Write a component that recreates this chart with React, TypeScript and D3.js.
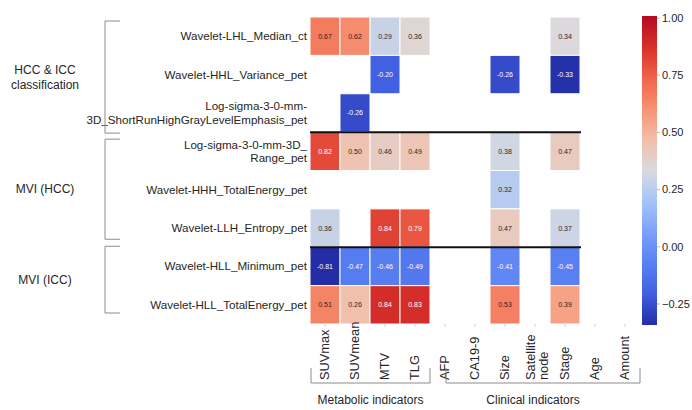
import React from 'react';
import * as d3 from 'd3';

const features: string[][] = [
  ['Wavelet-LHL_Median_ct'],
  ['Wavelet-HHL_Variance_pet'],
  ['Log-sigma-3-0-mm-', '3D_ShortRunHighGrayLevelEmphasis_pet'],
  ['Log-sigma-3-0-mm-3D_', 'Range_pet'],
  ['Wavelet-HHH_TotalEnergy_pet'],
  ['Wavelet-LLH_Entropy_pet'],
  ['Wavelet-HLL_Minimum_pet'],
  ['Wavelet-HLL_TotalEnergy_pet'],
];

const indicators: string[][] = [
  ['SUVmax'], ['SUVmean'], ['MTV'], ['TLG'], ['AFP'], ['CA19-9'], ['Size'],
  ['Satellite', 'node'], ['Stage'], ['Age'], ['Amount'],
];

const N = null;
const values: (number | null)[][] = [
  [0.67, 0.62, 0.29, 0.36, N, N, N, N, 0.34, N, N],
  [N, N, -0.20, N, N, N, -0.26, N, -0.33, N, N],
  [N, -0.26, N, N, N, N, N, N, N, N, N],
  [0.82, 0.50, 0.46, 0.49, N, N, 0.38, N, 0.47, N, N],
  [N, N, N, N, N, N, 0.32, N, N, N, N],
  [0.36, N, 0.84, 0.79, N, N, 0.47, N, 0.37, N, N],
  [-0.81, -0.47, -0.46, -0.49, N, N, -0.41, N, -0.45, N, N],
  [0.51, 0.26, 0.84, 0.83, N, N, 0.53, N, 0.39, N, N],
];

// row groups (stacked heatmaps, each with its own colour normalisation)
const groupNames: string[][] = [['HCC & ICC', 'classification'], ['MVI (HCC)'], ['MVI (ICC)']];
const groupStart = [0, 3, 6];
const groupEnd = [3, 6, 8];
const groupVmin = [-0.34, -0.2, -0.81];
const groupVmax = [1.01, 1.0, 1.0];

const colGroupNames = ['Metabolic indicators', 'Clinical indicators'];
const colGroupStart = [0, 4];
const colGroupEnd = [4, 11];

const cbTicks = [-0.25, 0, 0.25, 0.5, 0.75, 1.0];
const cbMin = -0.342;
const cbMax = 1.009;

// saturated coolwarm-like palette as seen in the figure
const palette = ['#232da5', '#415fe1', '#5880f2', '#7da0fa', '#a5c3fa', '#dadade', '#f2bea8', '#f69173', '#f06448', '#d7302a', '#b40a23'];
const interp = d3.piecewise(d3.interpolateRgb, palette);

function relLum(c: string) {
  const rgb = d3.rgb(c);
  const f = (v: number) => {
    v = v / 255;
    return v <= 0.03928 ? v / 12.92 : Math.pow((v + 0.055) / 1.055, 2.4);
  };
  return 0.2126 * f(rgb.r) + 0.7152 * f(rgb.g) + 0.0722 * f(rgb.b);
}

const FONT = "'Liberation Sans', Arial, Helvetica, sans-serif";
const TEXT = '#262626';
const BRACKET = '#8c8c8c';

export default function App() {
  const W = 692, H = 410;
  const x = d3.scaleBand<number>().domain(d3.range(indicators.length)).range([310, 640]);
  const y = d3.scaleBand<number>().domain(d3.range(features.length)).range([17, 324]);
  const bw = x.bandwidth();
  const bh = y.bandwidth();
  const yEdge = (i: number) => (i >= features.length ? 324 : (y(i) as number));

  const cbY = d3.scaleLinear().domain([cbMin, cbMax]).range([325, 16]);
  const stops = d3.range(0, 1.0001, 0.05);

  const bracketInset = [[4, 1], [7, -8], [-1, -11]];

  const cells: any[] = [];
  values.forEach((row, r) => {
    const g = groupStart.findIndex((s, k) => r >= s && r < groupEnd[k]);
    const norm = d3.scaleLinear().domain([groupVmin[g], groupVmax[g]]).range([0, 1]).clamp(true);
    row.forEach((v, c) => {
      if (v === null) return;
      const fill = interp(norm(v));
      const tc = relLum(fill) > 0.3 ? TEXT : '#ffffff';
      const cx = (x(c) as number);
      const cy = (y(r) as number);
      cells.push(
        <g key={`c${r}-${c}`}>
          <rect x={cx} y={cy} width={bw} height={bh} fill={fill} stroke="#fff" strokeWidth={1} />
          <text x={cx + bw / 2} y={cy + bh / 2} dy="0.35em" textAnchor="middle" fontSize={7} fill={tc} fontFamily={FONT}>
            {v.toFixed(2)}
          </text>
        </g>
      );
    });
  });

  return (
    <svg width={W} height={H} style={{ position: 'absolute', left: 0, top: 0, background: '#fff' }} fontFamily={FONT}>
      <defs>
        <linearGradient id="cbgrad" x1="0" y1="1" x2="0" y2="0">
          {stops.map((t, i) => (
            <stop key={i} offset={t} stopColor={interp(t)} />
          ))}
        </linearGradient>
      </defs>

      {cells}

      {/* group separator lines */}
      {groupStart.slice(1).map((s, i) => (
        <line key={`sep${i}`} x1={310} x2={581} y1={yEdge(s)} y2={yEdge(s)} stroke="#111" strokeWidth={2} />
      ))}

      {/* column ticks */}
      {indicators.map((_, c) => (
        <line key={`ct${c}`} x1={(x(c) as number) + bw / 2} x2={(x(c) as number) + bw / 2} y1={324} y2={327} stroke="#d0d0d0" strokeWidth={1} />
      ))}

      {/* row labels */}
      {features.map((lines, r) => {
        const cy = (y(r) as number) + bh / 2;
        const lh = 13.5;
        const off = -((lines.length - 1) * lh) / 2;
        return (
          <text key={`rl${r}`} x={307} textAnchor="end" fontSize={11.6} fill={TEXT}>
            {lines.map((l, k) => (
              <tspan key={k} x={307} y={cy + off + k * lh} dy="0.35em">{l}</tspan>
            ))}
          </text>
        );
      })}

      {/* column labels */}
      {indicators.map((lines, c) => {
        const cx = (x(c) as number) + bw / 2;
        const lh = 13;
        const off = -((lines.length - 1) * lh) / 2 + (lines.length > 1 ? 2 : 0);
        return (
          <g key={`cl${c}`}>
            {lines.map((l, k) => (
              <text key={k} transform={`translate(${cx + off + k * lh},380) rotate(-90)`} textAnchor="start" dy="0.35em" fontSize={12.8} fill={TEXT}>
                {l}
              </text>
            ))}
          </g>
        );
      })}

      {/* bottom brackets */}
      {colGroupNames.map((name, k) => {
        const x1 = (x(colGroupStart[k]) as number) + (k === 0 ? 1 : bw / 2 + 1);
        const x2 = k === 0 ? (x(colGroupEnd[k] - 1) as number) + bw : 640;
        return (
          <g key={`cg${k}`}>
            <path d={`M${x1},368V383H${x2}V368`} fill="none" stroke={BRACKET} strokeWidth={1} />
            <text x={(x1 + x2) / 2 - (k === 1 ? 10 : 0)} y={400} dy="0.35em" textAnchor="middle" fontSize={12} fill={TEXT}>{name}</text>
          </g>
        );
      })}

      {/* left brackets */}
      {groupNames.map((lines, g) => {
        const top = yEdge(groupStart[g]) + bracketInset[g][0];
        const bot = yEdge(groupEnd[g]) + bracketInset[g][1];
        const mid = (top + bot) / 2;
        const lh = 15;
        const off = -((lines.length - 1) * lh) / 2;
        return (
          <g key={`rg${g}`}>
            <path d={`M120,${top}H105V${bot}H120`} fill="none" stroke={BRACKET} strokeWidth={1} />
            <text textAnchor="middle" fontSize={12} fill={TEXT}>
              {lines.map((l, k) => (
                <tspan key={k} x={45} y={mid + off + k * lh} dy="0.35em">{l}</tspan>
              ))}
            </text>
          </g>
        );
      })}

      {/* colorbar */}
      <rect x={642} y={cbY(cbMax)} width={15} height={cbY(cbMin) - cbY(cbMax)} fill="url(#cbgrad)" />
      {cbTicks.map((t, i) => (
        <g key={`cb${i}`}>
          <line x1={657} x2={660} y1={cbY(t)} y2={cbY(t)} stroke="#bbb" strokeWidth={1} />
          <text x={662} y={cbY(t)} dy="0.35em" fontSize={11} fill={TEXT}>{d3.format('.2f')(t)}</text>
        </g>
      ))}
    </svg>
  );
}
